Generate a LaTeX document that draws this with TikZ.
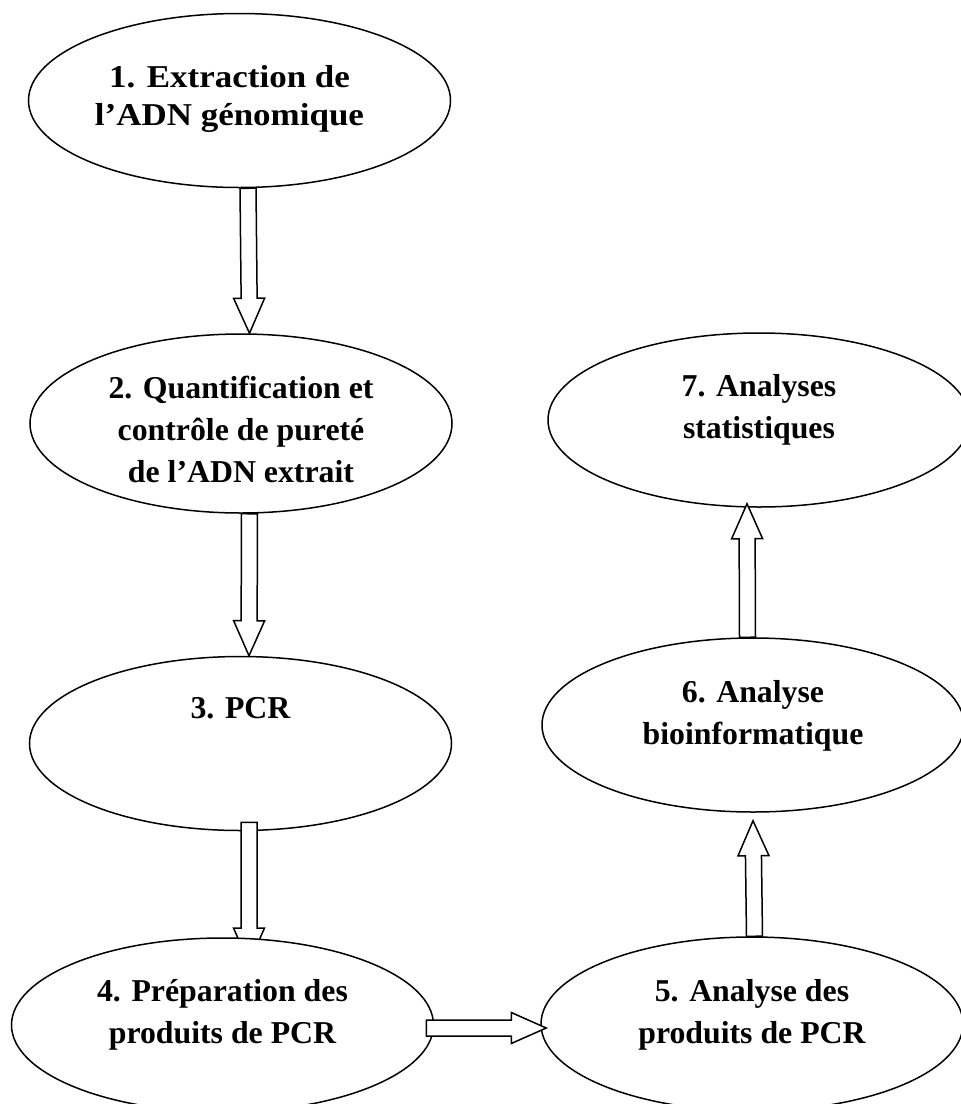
\documentclass[tikz,border=0pt]{standalone}
\usepackage{fontspec}
\setmainfont{Liberation Serif}
\newfontfamily\largeserif{Liberation Serif}[FakeStretch=1.1]
\usetikzlibrary{shapes.geometric,calc}

\tikzset{
  etape/.style={draw, ellipse, line width=1.5pt, fill=white, inner sep=0pt,
    minimum width=422pt, minimum height=174pt},
  texte/.style={align=center, inner sep=0pt,
    font=\fontsize{31.8}{42}\selectfont\bfseries},
  bloc/.style={draw, line width=1.5pt, fill=white, line join=miter},
}

% block arrow from #1 to #2
\newcommand{\fleche}[2]{
  \path (#1) coordinate (queue);
  \path (#2) coordinate (pointe);
  \path ($(pointe)!35pt!(queue)$) coordinate (base);
  \draw[bloc] ($(queue)!8pt!90:(pointe)$) -- ($(base)!8pt!90:(pointe)$)
    -- ($(base)!15.5pt!90:(pointe)$) -- (pointe)
    -- ($(base)!15.5pt!-90:(pointe)$) -- ($(base)!8pt!-90:(pointe)$)
    -- ($(queue)!8pt!-90:(pointe)$) -- cycle;
}

\begin{document}
\begin{tikzpicture}[x=1pt, y=-1pt]
    \useasboundingbox (0,0) rectangle (961,1104);
    \clip (0,0) rectangle (961,1104);

    % left column
    \node[etape] (e1) at (239.5,100.5) {};
    \node[texte, font=\fontsize{31.8}{38}\selectfont\largeserif\bfseries] (t1)
      at ([shift={(-10pt,1.8pt)}]e1.center) {1. Extraction de\\l’ADN génomique};
    \node[etape, minimum height=179pt] (e2) at (241,423.5) {};
    \node[texte] (t2) at ([yshift=-5.5pt]e2.center) {2. Quantification et\\contrôle de pureté\\de l’ADN extrait};
    \node[etape] (e3) at (240.5,743.5) {};
    \node[texte] (t3) at ([yshift=35pt]e3.center) {3. PCR};

    % end of the third arrow, hidden under step 4
    \coordinate (fin3) at (249,963);

    \fleche{[xshift=8.5pt]e1.south}{[xshift=8.5pt]e2.north}
    \fleche{[xshift=8.5pt]e2.south}{[xshift=8.5pt]e3.north}
    \fleche{[shift={(8.5pt,9pt)}]e3.south}{fin3}

    % bottom row and right column
    \node[etape] (e4) at (222.5,1025) {};
    \node[texte] (t4) at ([yshift=10.5pt]e4.center) {4. Préparation des\\produits de PCR};
    \node[etape] (e5) at (752,1024) {};
    \node[texte] (t5) at ([yshift=9pt]e5.center) {5. Analyse des\\produits de PCR};
    \node[etape] (e6) at (753,725) {};
    \node[texte] (t6) at ([yshift=9.6pt]e6.center) {6. Analyse\\bioinformatique};
    \node[etape] (e7) at (759,420) {};
    \node[texte] (t7) at ([yshift=10.3pt]e7.center) {7. Analyses\\statistiques};

    \fleche{[shift={(-8pt,-3pt)}]e4.east}{[shift={(6pt,-4pt)}]e5.west}
    \fleche{[xshift=2.5pt]e5.north}{[yshift=-8pt]e6.south}
    \fleche{[xshift=-5.5pt]e6.north}{[shift={(-12pt,4pt)}]e7.south}
\end{tikzpicture}
\end{document}
